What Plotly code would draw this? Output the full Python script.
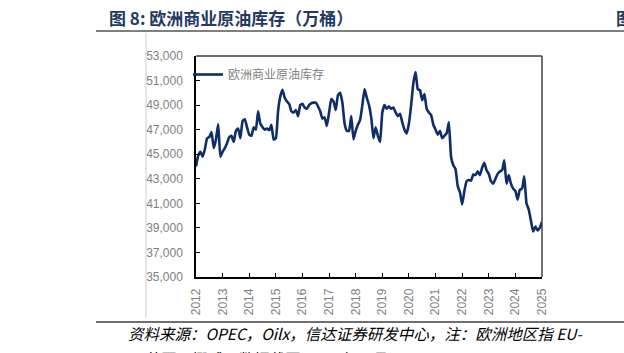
import plotly.graph_objects as go

start_year = 2012
values = [
    # 2012
    44000, 44900, 45200, 44800, 45400, 46300, 46400, 46800, 45500, 46200, 47450, 44800,
    # 2013
    45200, 45500, 45900, 46400, 46500, 46000, 46900, 47100, 46300, 47700, 47850, 47200,
    # 2014
    46600, 46500, 47200, 47000, 48500, 47500, 47200, 47000, 47100, 46950, 47400, 46200,
    # 2015
    46300, 48500, 49700, 50250, 49600, 49300, 49100, 48500, 48400, 48600, 48100, 49000,
    # 2016
    49100, 48800, 48700, 49000, 49150, 49200, 49200, 48900, 48500, 47900, 48000, 47300,
    # 2017
    48400, 49500, 49300, 48600, 49800, 50000, 49200, 47500, 46900, 46900, 48100, 46200,
    # 2018
    46900, 47400, 47800, 49000, 50300, 49600, 49000, 48000, 46300, 47200, 46500, 46000,
    # 2019
    48400, 49000, 48700, 48900, 48700, 48800, 48400, 48100, 48300, 47600, 47000, 46700,
    # 2020
    47500, 49000, 50800, 51700, 50300, 50200, 49400, 49900, 48700, 48400, 48200, 47400,
    # 2021
    47000, 46600, 46900, 46300, 46500, 46700, 47600, 44800, 44100, 43800, 42400, 41900,
    # 2022
    40900, 42000, 42800, 42900, 42850, 43350, 43300, 43600, 43300, 43900, 44300, 43700,
    # 2023
    43400, 42800, 42600, 43000, 43400, 43600, 43700, 44500, 42600, 43300, 42600, 42200,
    # 2024
    42000, 41300, 42100, 42200, 43200, 41000, 40500, 39600, 38700, 39100, 38800, 39000,
    # 2025
    39500,
]
x_vals = [start_year + i / 12 for i in range(len(values))]
year_ticks = list(range(2012, 2026))
y_ticks = list(range(35000, 53001, 2000))
y_tick_text = [f"{v:,}" for v in y_ticks]

series_name = "欧洲商业原油库存"
title_text = "图 8: 欧洲商业原油库存（万桶）"
footer1 = "资料来源：OPEC，Oilx，信达证券研发中心，注：欧洲地区指 EU-"
footer2 = "14、英国、挪威，数据截至 2025 年 1 月"

W, H = 624, 353
L, R, T, B = 196, 542, 56, 277

def px_x(p):
    return (p - L) / (R - L)

def px_y(p):
    return (B - p) / (B - T)

fig = go.Figure()
fig.add_trace(go.Scatter(
    x=x_vals, y=values, mode="lines", name=series_name,
    line=dict(color="#0e2d6b", width=2.6, shape="spline", smoothing=0.4),
))

axis_font = dict(family="Liberation Sans, Arial, sans-serif", size=12, color="#7f7f7f")

fig.update_layout(
    width=W, height=H,
    margin=dict(l=L, r=W - R, t=T, b=H - B),
    paper_bgcolor="white", plot_bgcolor="white",
    showlegend=True,
    legend=dict(x=px_x(188), y=px_y(60), xanchor="left", yanchor="top",
                bgcolor="rgba(0,0,0,0)", itemwidth=30,
                font=dict(family="Noto Sans CJK SC", size=12, color="#7f7f7f")),
    xaxis=dict(
        range=[2012, 2025], tickmode="array", tickvals=year_ticks,
        ticktext=[str(y) for y in year_ticks], tickangle=-90,
        ticks="inside", ticklen=4, tickcolor="#000000",
        showgrid=False, zeroline=False, ticklabelstandoff=5,
        showline=True, linecolor="#000000", linewidth=1.5, mirror=False,
        tickfont=axis_font,
    ),
    yaxis=dict(
        range=[35000, 53000], tickmode="array", tickvals=y_ticks, ticktext=y_tick_text,
        ticks="inside", ticklen=4, tickcolor="#000000",
        showgrid=False, zeroline=False, ticklabelstandoff=9,
        showline=True, linecolor="#000000", linewidth=1.5, mirror=False,
        tickfont=axis_font,
    ),
)

shapes = [
    # top and right frame
    dict(type="line", xref="paper", yref="paper", x0=0, x1=1, y0=1, y1=1,
         line=dict(color="#404040", width=1.5)),
    dict(type="line", xref="paper", yref="paper", x0=1, x1=1, y0=0, y1=1,
         line=dict(color="#404040", width=1.5)),
    # title underline
    dict(type="line", xref="paper", yref="paper", x0=px_x(96), x1=px_x(624),
         y0=px_y(31), y1=px_y(31), line=dict(color="#7f7f7f", width=2)),
    # footer line
    dict(type="line", xref="paper", yref="paper", x0=px_x(96), x1=px_x(624),
         y0=px_y(322), y1=px_y(322), line=dict(color="#404040", width=1.5)),
    # faint vertical page line
    dict(type="line", xref="paper", yref="paper", x0=px_x(146), x1=px_x(146),
         y0=px_y(33), y1=px_y(318), line=dict(color="#cfcfcf", width=1)),
]
fig.update_layout(shapes=shapes)

annotations = [
    dict(text="<b>" + title_text + "</b>", xref="paper", yref="paper",
         x=px_x(107), y=px_y(18), xanchor="left", yanchor="middle", showarrow=False,
         font=dict(family="Noto Sans CJK SC", size=17, color="#1f3a64")),
    dict(text="<b>图</b>", xref="paper", yref="paper",
         x=px_x(614), y=px_y(18), xanchor="left", yanchor="middle", showarrow=False,
         font=dict(family="Noto Sans CJK SC", size=17, color="#1f3a64")),
    dict(text="<i>" + footer1 + "</i>", xref="paper", yref="paper",
         x=px_x(126), y=px_y(333), xanchor="left", yanchor="middle", showarrow=False,
         font=dict(family="Noto Sans CJK SC", size=15.5, color="#000000")),
    dict(text="<i>" + footer2 + "</i>", xref="paper", yref="paper",
         x=px_x(108), y=px_y(358), xanchor="left", yanchor="middle", showarrow=False,
         font=dict(family="Noto Sans CJK SC", size=15.5, color="#000000")),
]
fig.update_layout(annotations=annotations)

fig.write_html("out.html")
